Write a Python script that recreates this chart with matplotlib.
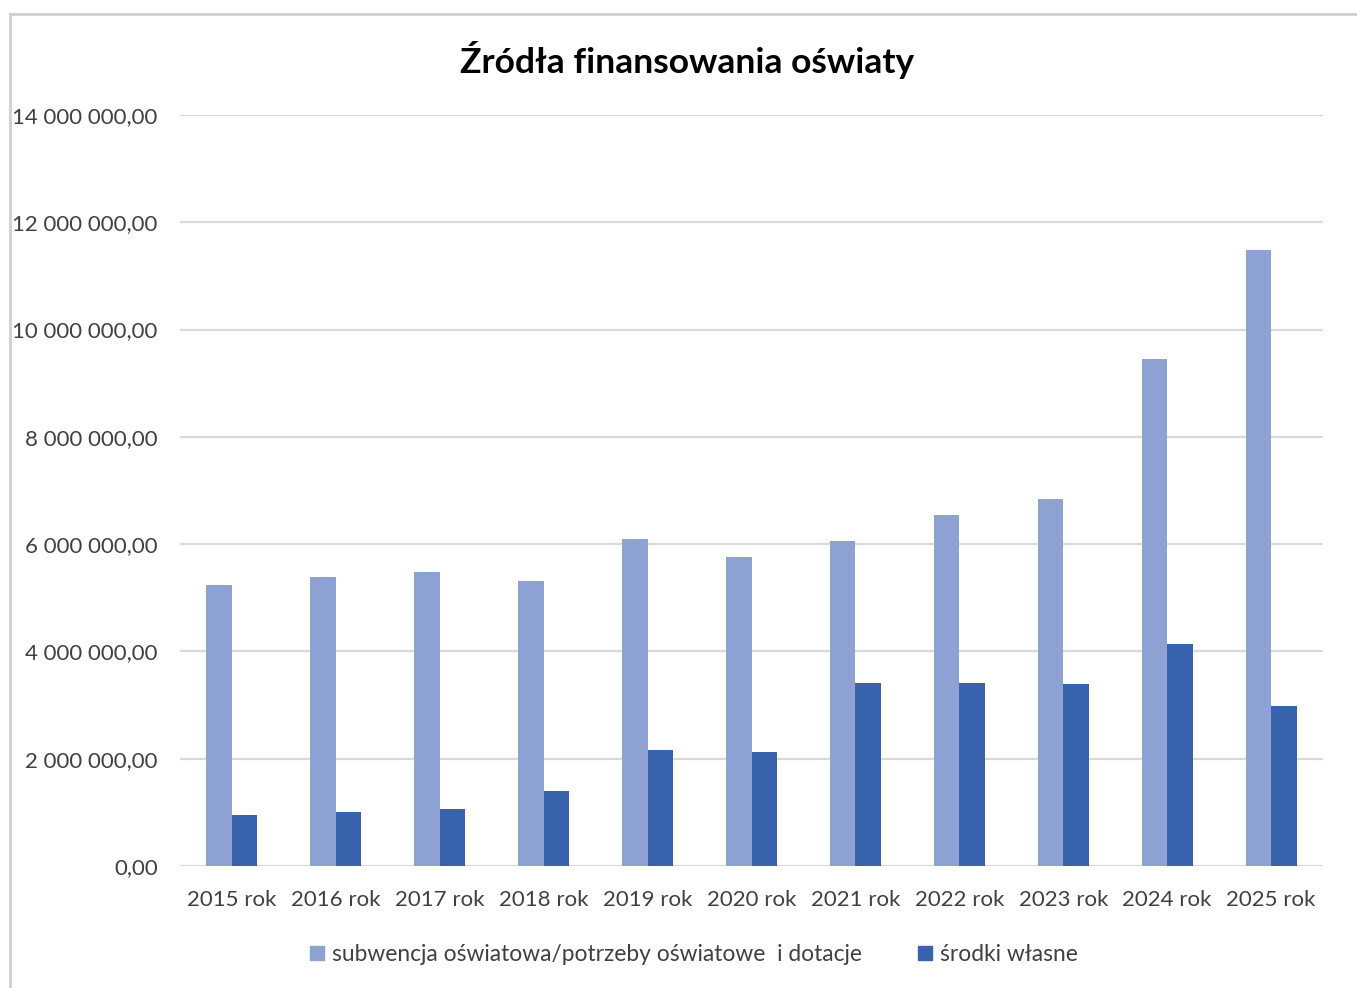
import numpy as np
import matplotlib
matplotlib.use("Agg")
import matplotlib.pyplot as plt
from matplotlib.lines import Line2D

# --- DATA ---
years = ["2015 rok", "2016 rok", "2017 rok", "2018 rok", "2019 rok", "2020 rok",
         "2021 rok", "2022 rok", "2023 rok", "2024 rok", "2025 rok"]
subwencja = [5.24e6, 5.39e6, 5.49e6, 5.31e6, 6.10e6, 5.76e6,
             6.05e6, 6.54e6, 6.84e6, 9.45e6, 11.48e6]
srodki_wlasne = [0.96e6, 1.01e6, 1.06e6, 1.40e6, 2.17e6, 2.13e6,
                 3.42e6, 3.42e6, 3.39e6, 4.13e6, 2.98e6]
labels = ["subwencja oświatowa/potrzeby oświatowe  i dotacje", "środki własne"]

# --- STYLE ---
plt.rcParams['font.family'] = ['Lato', 'DejaVu Sans']
c_light = "#8EA1D3"
c_dark = "#3963AC"
grid_c = "#D9D9D9"
text_c = "#404040"


def pl_fmt(v, pos=None):
    s = f"{v:,.2f}".replace(",", " ").replace(".", ",")
    return s


fig = plt.figure(figsize=(13.57, 9.88), dpi=100)
ax = fig.add_axes([180 / 1357, 1 - 866 / 988, (1323 - 180) / 1357, (866 - 115) / 988])

x = np.arange(len(years))
w = 0.245
ax.bar(x - w / 2, subwencja, w, color=c_light, label=labels[0], zorder=3)
ax.bar(x + w / 2, srodki_wlasne, w, color=c_dark, label=labels[1], zorder=3)

ax.set_xlim(-0.5, len(years) - 0.5)
ax.set_ylim(0, 14e6)
ax.set_yticks(np.arange(0, 14e6 + 1, 2e6))
ax.yaxis.set_major_formatter(plt.FuncFormatter(pl_fmt))
ax.set_xticks(x)
ax.set_xticklabels(years)
ax.tick_params(axis='both', length=0, labelsize=16, colors=text_c)
ax.tick_params(axis='y', pad=16)
ax.tick_params(axis='x', pad=17)

ax.grid(axis='y', color=grid_c, linewidth=1.6, zorder=0)
for sp in ax.spines.values():
    sp.set_visible(False)

fig.text(0.506, 1 - 60 / 988, "Źródła finansowania oświaty", ha='center', va='center',
         fontsize=25.5, fontweight='bold', color="#000000")

handles = [Line2D([], [], marker='s', linestyle='none', markersize=10, color=c) for c in (c_light, c_dark)]
leg = fig.legend(handles, labels, loc='center', bbox_to_anchor=(0.511, 1 - 954 / 988), ncol=2,
                 frameon=False, fontsize=16.4, handletextpad=0.3, columnspacing=2.4, handlelength=0.7)
for t in leg.get_texts():
    t.set_color(text_c)

# frame of the chart area
fig.add_artist(Line2D([10 / 1357, 1.0], [1 - 14 / 988, 1 - 14 / 988], color="#D0D0D0", linewidth=2))
fig.add_artist(Line2D([10 / 1357, 10 / 1357], [1 - 14 / 988, 0.0], color="#D0D0D0", linewidth=2))

fig.savefig("out.png", dpi=100, facecolor="white")
